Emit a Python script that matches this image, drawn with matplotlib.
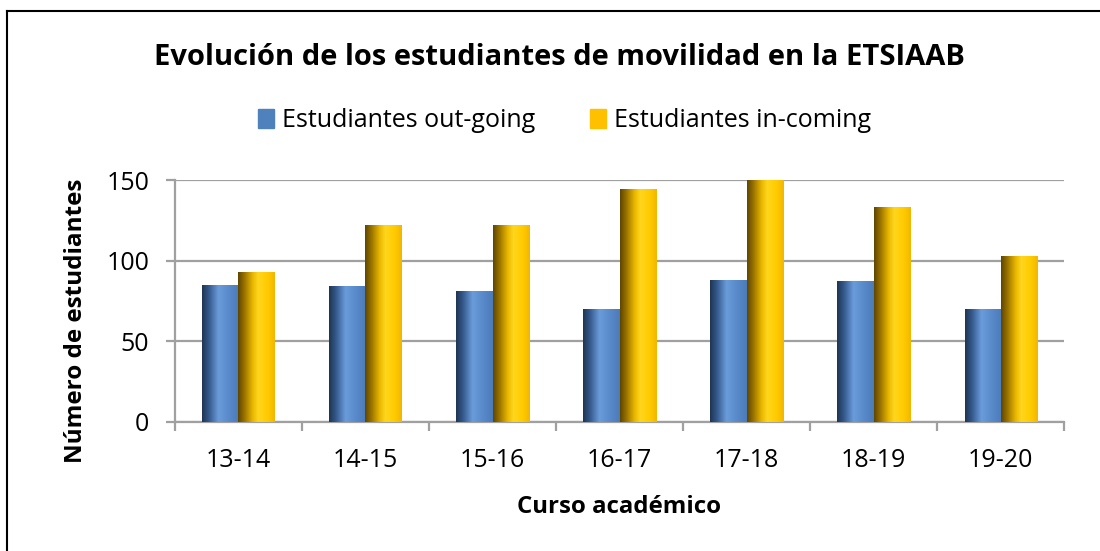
import matplotlib.pyplot as plt
import numpy as np
from matplotlib.colors import LinearSegmentedColormap
from matplotlib.patches import Patch
from matplotlib.lines import Line2D

plt.rcParams['font.family'] = ['Open Sans', 'DejaVu Sans']

cursos = ['13-14', '14-15', '15-16', '16-17', '17-18', '18-19', '19-20']
out_going = [85, 84, 81, 70, 88, 87, 70]
in_coming = [93, 122, 122, 144, 150, 133, 103]

BLUE = '#4F81BD'
GOLD = '#FFC000'
GRID = '#A0A0A0'

blue_cmap = LinearSegmentedColormap.from_list('b', [
    (0.0, '#1E3552'), (0.18, '#33578A'), (0.45, '#6A9CDB'),
    (0.7, '#5A8BCB'), (1.0, '#4C7BB9')])
gold_cmap = LinearSegmentedColormap.from_list('g', [
    (0.0, '#5E4600'), (0.18, '#9C7400'), (0.4, '#E9B800'),
    (0.55, '#FFD61C'), (0.8, '#FFCB00'), (1.0, '#F2B700')])

fig = plt.figure(figsize=(11, 5.51), dpi=100)
ax = fig.add_axes([0.159, 0.2347, 0.8085, 0.4386])

x = np.arange(len(cursos))
w = 0.285
grad = np.linspace(0, 1, 256).reshape(1, -1)
for vals, off, cmap in [(out_going, -w / 2, blue_cmap), (in_coming, w / 2, gold_cmap)]:
    bars = ax.bar(x + off, vals, w, color='none', edgecolor='none', zorder=3)
    for b in bars:
        ax.imshow(grad, cmap=cmap, aspect='auto', zorder=3, interpolation='bilinear',
                  extent=[b.get_x(), b.get_x() + b.get_width(), 0, b.get_height()])

ax.set_xlim(-0.5, len(cursos) - 0.5)
ax.set_ylim(0, 150)
ax.set_yticks([0, 50, 100, 150])
ax.yaxis.grid(True, color=GRID, linewidth=1.6, zorder=1)
ax.set_axisbelow(True)

ax.set_xticks(x)
ax.set_xticklabels(cursos, fontsize=18)
ax.set_xticks(np.arange(-0.5, len(cursos)), minor=True)
ax.tick_params(axis='x', which='major', length=0, pad=19)
ax.tick_params(axis='x', which='minor', length=6.5, width=1.6, color=GRID, direction='out')
ax.tick_params(axis='y', length=6.5, width=1.6, color=GRID, labelsize=18, pad=12)

for s in ['top', 'right']:
    ax.spines[s].set_visible(False)
for s in ['left', 'bottom']:
    ax.spines[s].set_color(GRID)
    ax.spines[s].set_linewidth(1.6)

fig.text(0.5085, 0.896, 'Evolución de los estudiantes de movilidad en la ETSIAAB',
         ha='center', va='center', fontsize=21, fontweight='bold')
fig.text(0.069, 0.417, 'Número de estudiantes', rotation=90, ha='center', va='center',
         fontsize=17.5, fontweight='bold')
fig.text(0.563, 0.080, 'Curso académico', ha='center', va='center',
         fontsize=17.3, fontweight='bold')

handles = [Patch(color=BLUE), Patch(color=GOLD)]
fig.legend(handles, ['Estudiantes out-going', 'Estudiantes in-coming'],
           loc='center', bbox_to_anchor=(0.513, 0.781), ncol=2, frameon=False,
           fontsize=18, handlelength=0.65, handleheight=0.75, handletextpad=0.3,
           columnspacing=2.2)

# chart frame (left and top edges visible)
fig.add_artist(Line2D([0.0064, 0.0064], [0, 0.98], color='black', linewidth=1.5,
                      transform=fig.transFigure))
fig.add_artist(Line2D([0.0064, 1], [0.98, 0.98], color='black', linewidth=1.5,
                      transform=fig.transFigure))

fig.savefig('out.png', dpi=100)
